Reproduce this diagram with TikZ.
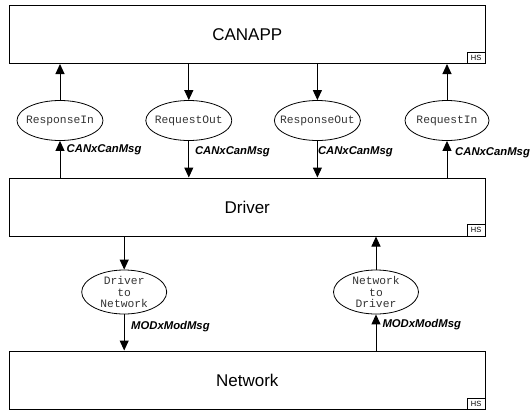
\documentclass[tikz,border=0pt]{standalone}
\usepackage{fontspec}
\setmainfont{Liberation Sans}
\newfontfamily\monofam{Liberation Mono}
\usetikzlibrary{arrows.meta,shapes.geometric}
\begin{document}
\begin{tikzpicture}[x=1pt,y=-1pt,
 blk/.style={draw, line width=1pt, minimum width=475.5pt, inner sep=0, font=\fontsize{17}{20}\selectfont},
 hs/.style={draw, line width=0.8pt, minimum width=18pt, minimum height=11.5pt, inner sep=0, font=\fontsize{7.5}{8}\selectfont, anchor=south east},
 place/.style={draw, ellipse, line width=0.8pt, minimum width=86pt, minimum height=40pt, inner sep=0},
 ptext/.style={font=\monofam\fontsize{11.3}{11.6}\selectfont, align=center, text=black!80, inner sep=0},
 msg/.style={font=\fontsize{11.3}{13}\selectfont\bfseries\itshape, anchor=west, inner sep=0},
 arr/.style={line width=1pt, -{Triangle[length=10pt,width=9pt]}}]
\useasboundingbox (0,0) rectangle (531,413);
% blocks
\node[blk, minimum height=58.5pt] (canapp) at (247.25,34.25) {CANAPP};
\node[hs] (hs1) at (canapp.south east) {HS};
\node[blk, minimum height=58pt] (driver) at (247.25,207) {Driver};
\node[hs] (hs2) at (driver.south east) {HS};
\node[blk, minimum height=58.5pt] (network) at (247.25,380.25) {Network};
\node[hs] (hs3) at (network.south east) {HS};
% places
\node[place, label={[ptext]center:ResponseIn}] (rin) at (60,120.5) {};
\node[place, label={[ptext]center:RequestOut}] (rout) at (188.8,120.5) {};
\node[place, label={[ptext]center:ResponseOut}] (sout) at (317.4,120.5) {};
\node[place, minimum width=84pt, label={[ptext]center:RequestIn}] (qin) at (447,120.5) {};
\node[place, minimum height=44pt, minimum width=85pt, label={[ptext]center:{Driver\\to\\Network}}] (d2n) at (124.2,292) {};
\node[place, minimum height=44pt, minimum width=85pt, label={[ptext]center:{Network\\to\\Driver}}] (n2d) at (376,292) {};
% arrows
\draw[arr] (driver.north -| rin) -- (rin.south);
\draw[arr] (rin.north) -- (rin.north |- canapp.south);
\draw[arr] (canapp.south -| rout) -- (rout.north);
\draw[arr] (rout.south) -- (rout.south |- driver.north);
\draw[arr] (canapp.south -| sout) -- (sout.north);
\draw[arr] (sout.south) -- (sout.south |- driver.north);
\draw[arr] (driver.north -| qin) -- (qin.south);
\draw[arr] (qin.north) -- (qin.north |- canapp.south);
\draw[arr] (driver.south -| d2n) -- (d2n.north);
\draw[arr] (d2n.south) -- (d2n.south |- network.north);
\draw[arr] (network.north -| n2d) -- (n2d.south);
\draw[arr] (n2d.north) -- (n2d.north |- driver.south);
% labels
\node[msg] (m1) at (66.5,149.3) {CANxCanMsg};
\node[msg] (m2) at (194.8,151.3) {CANxCanMsg};
\node[msg] (m3) at (317.8,151.3) {CANxCanMsg};
\node[msg] (m4) at (455,153) {CANxCanMsg};
\node[msg] (m5) at (131,326.2) {MODxModMsg};
\node[msg] (m6) at (382.3,324.5) {MODxModMsg};
\end{tikzpicture}
\end{document}
